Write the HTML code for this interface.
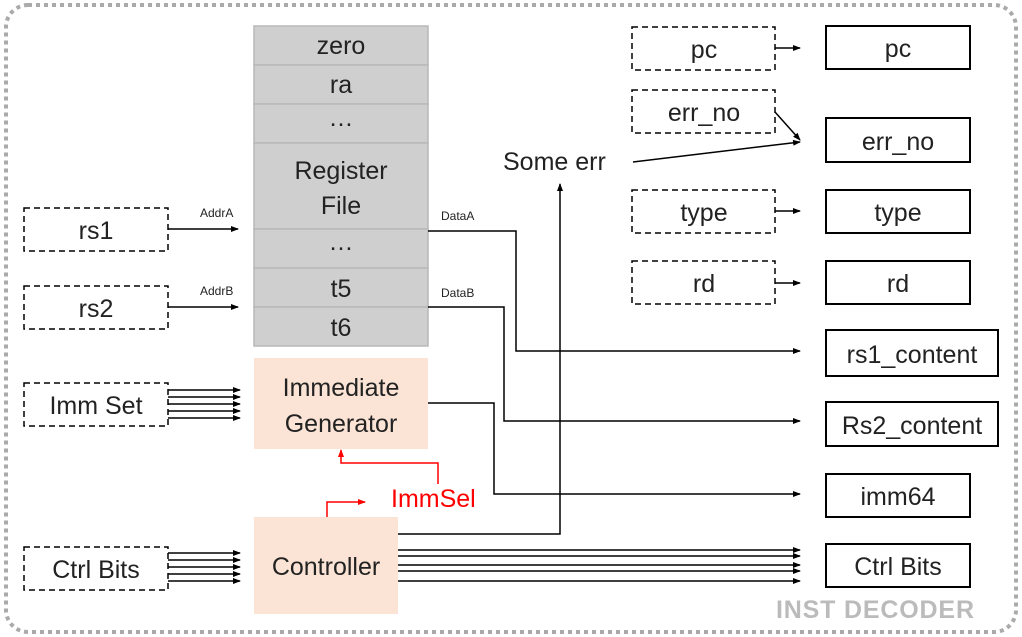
<!DOCTYPE html>
<html><head><meta charset="utf-8"><style>
html,body{margin:0;padding:0;background:#fff;}
svg{display:block;font-family:"Liberation Sans",sans-serif;}
</style></head><body>
<svg width="1022" height="637" viewBox="0 0 1022 637">
<defs>
<marker id="a" markerWidth="8" markerHeight="8" refX="7" refY="4" orient="auto" markerUnits="userSpaceOnUse"><path d="M0,1 L8,4 L0,7 Z" fill="#000"/></marker>
<marker id="r" markerWidth="8" markerHeight="8" refX="7" refY="4" orient="auto" markerUnits="userSpaceOnUse"><path d="M0,1 L8,4 L0,7 Z" fill="#f00"/></marker>
</defs>
<rect x="6" y="5" width="1010" height="627" rx="22" fill="none" stroke="#aaa" stroke-width="4" stroke-dasharray="4 4"/>
<g fill="#d0cfd0" stroke="#b8b8b8" stroke-width="1.5">
<rect x="254" y="26" width="174" height="39"/><rect x="254" y="65" width="174" height="39"/><rect x="254" y="104" width="174" height="39"/>
<rect x="254" y="143" width="174" height="86"/><rect x="254" y="229" width="174" height="39"/><rect x="254" y="268" width="174" height="39"/><rect x="254" y="307" width="174" height="39"/>
</g>
<g font-size="25" text-anchor="middle" fill="#222">
<text x="341" y="54">zero</text><text x="341" y="93">ra</text><text x="341" y="126">…</text>
<text x="341" y="179">Register</text><text x="341" y="214">File</text><text x="341" y="250">…</text>
<text x="341" y="297">t5</text><text x="341" y="336">t6</text>
</g>
<rect x="254" y="358" width="174" height="91" fill="#fbe4d5"/>
<rect x="254" y="517" width="144" height="97" fill="#fbe4d5"/>
<g font-size="25" text-anchor="middle" fill="#222">
<text x="341" y="396">Immediate</text><text x="341" y="432">Generator</text>
<text x="326" y="575">Controller</text>
</g>
<g fill="none" stroke="#000" stroke-width="1.5" stroke-dasharray="6 4">
<rect x="24" y="208" width="144" height="43"/><rect x="24" y="286" width="144" height="43"/>
<rect x="24" y="383" width="144" height="43"/><rect x="24" y="547" width="144" height="43"/>
<rect x="632" y="27" width="143" height="43"/><rect x="632" y="90" width="143" height="43"/>
<rect x="632" y="190" width="143" height="43"/><rect x="632" y="261" width="143" height="43"/>
</g>
<g font-size="25" text-anchor="middle" fill="#222">
<text x="96" y="239">rs1</text><text x="96" y="317">rs2</text><text x="96" y="414">Imm Set</text><text x="96" y="578">Ctrl Bits</text>
<text x="704" y="58">pc</text><text x="704" y="121">err_no</text><text x="704" y="221">type</text><text x="704" y="292">rd</text>
</g>
<g fill="none" stroke="#000" stroke-width="2">
<rect x="826" y="26" width="144" height="43"/><rect x="826" y="118" width="144" height="44"/>
<rect x="826" y="190" width="144" height="43"/><rect x="826" y="261" width="144" height="43"/>
<rect x="826" y="330" width="172" height="46"/><rect x="826" y="402" width="172" height="44"/>
<rect x="826" y="474" width="144" height="43"/><rect x="826" y="544" width="144" height="43"/>
</g>
<g font-size="25" text-anchor="middle" fill="#222">
<text x="898" y="57">pc</text><text x="898" y="150">err_no</text><text x="898" y="221">type</text><text x="898" y="292">rd</text>
<text x="912" y="363">rs1_content</text><text x="912" y="434">Rs2_content</text><text x="898" y="505">imm64</text><text x="898" y="575">Ctrl Bits</text>
</g>
<g fill="none" stroke="#000" stroke-width="1.5" marker-end="url(#a)">
<path d="M168 229 H238"/><path d="M168 307 H238"/>
<path d="M168 390 H240"/><path d="M168 397 H240"/><path d="M168 404 H240"/><path d="M168 411 H240"/><path d="M168 418 H240"/>
<path d="M168 553 H240"/><path d="M168 560 H240"/><path d="M168 567 H240"/><path d="M168 574 H240"/><path d="M168 581 H240"/>
<path d="M428 231 H516 V351 H800"/><path d="M428 307 H504 V421 H800"/><path d="M428 403 H494 V494 H800"/>
<path d="M398 534 H560 V184"/>
<path d="M398 550 H800"/><path d="M398 556 H800"/><path d="M398 565 H800"/><path d="M398 571 H800"/><path d="M398 581 H800"/>
<path d="M775 48 H800"/><path d="M775 211 H800"/><path d="M775 283 H800"/>
<path d="M775 112 L800 140"/><path d="M633 162 L800 142"/>
</g>
<g font-size="12" fill="#222"><text x="200" y="217">AddrA</text><text x="200" y="295">AddrB</text><text x="441" y="220">DataA</text><text x="441" y="297">DataB</text></g>
<text x="503" y="170" font-size="25" fill="#222">Some err</text>
<g fill="none" stroke="#f00" stroke-width="1.5" marker-end="url(#r)">
<path d="M438 484 V463 H341 V450"/><path d="M327 517 V502 H365"/>
</g>
<text x="391" y="507" font-size="25" fill="#f00">ImmSel</text>
<text x="776" y="618" font-size="25" font-weight="bold" fill="#bbb" textLength="198">INST DECODER</text>
</svg>
</body></html>
